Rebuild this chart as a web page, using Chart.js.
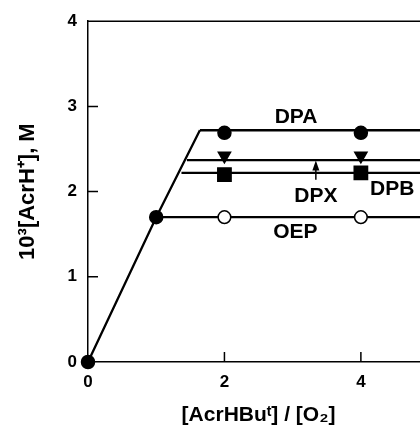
<!DOCTYPE html>
<html>
<head>
<meta charset="utf-8">
<script src="https://cdn.jsdelivr.net/npm/chart.js@4.4.0/dist/chart.umd.min.js"></script>
<style>
  html, body { margin: 0; padding: 0; overflow: hidden; background: #fff; }
  #wrap { width: 440px; height: 427px; }
</style>
</head>
<body>
<div id="wrap"><canvas id="acrChart" width="440" height="427"></canvas></div>
<script>
// Valores
const xMax = 5;
const yMax = 4;

// Recta inicial (todas las series comparten el tramo de subida)
const rampX = [0, 1, 1.64];
const rampY = [0, 1.70, 2.72];

// Mesetas de cada porfirina
const seriesNames = ['DPA', 'DPX', 'DPB', 'OEP'];
const plateauY = [2.72, 2.37, 2.22, 1.70];
const plateauStartX = [1.64, 1.45, 1.37, 1.0];

// Puntos experimentales
const rampPointsX = [0, 1];
const rampPointsY = [0, 1.70];
const pointX = [2, 4];
const dpaY = [2.69, 2.69];
const dpxY = [2.42, 2.42];
const dpbY = [2.20, 2.22];
const oepY = [1.70, 1.70];

const FONT = "'Liberation Sans', Arial, Helvetica, sans-serif";

const toPts = (xs, ys) => xs.map((x, i) => ({ x: x, y: ys[i] }));

// Etiquetas de las curvas (posición en coordenadas de datos)
const curveLabels = [
    { text: 'DPA', x: 3.05, y: 2.87 },
    { text: 'DPX', x: 3.34, y: 1.95 },
    { text: 'DPB', x: 4.46, y: 2.03 },
    { text: 'OEP', x: 3.04, y: 1.52 }
];
const dpxArrow = { x: 3.34, from: 2.14, to: 2.365 };

const lineDs = (data) => ({
    data: data,
    showLine: true,
    borderColor: '#000',
    borderWidth: 2.3,
    pointRadius: 0,
    order: 1
});

const pointDs = (data, style, radius, fill, rotation) => ({
    data: data,
    showLine: false,
    pointStyle: style,
    pointRadius: radius,
    pointHoverRadius: radius,
    pointRotation: rotation || 0,
    backgroundColor: fill,
    borderColor: '#000',
    borderWidth: 1.5,
    clip: false,
    order: 0
});

const datasets = [
    lineDs(toPts(rampX, rampY))
];
seriesNames.forEach((name, i) => {
    datasets.push(lineDs([{ x: plateauStartX[i], y: plateauY[i] }, { x: xMax, y: plateauY[i] }]));
});
datasets.push(pointDs(toPts(rampPointsX, rampPointsY), 'circle', 6.5, '#000'));
datasets.push(pointDs(toPts(pointX, dpaY), 'circle', 6.5, '#000'));
datasets.push(pointDs(toPts(pointX, dpxY), 'triangle', 7, '#000', 180));
datasets.push(pointDs(toPts(pointX, dpbY), 'rect', 9.4, '#000'));
datasets.push(pointDs(toPts(pointX, oepY), 'circle', 6.3, '#fff'));

// Marco superior, marcas hacia dentro, etiquetas y flecha
const decorations = {
    id: 'decorations',
    afterDatasetsDraw(chart) {
        const { ctx, chartArea, scales } = chart;
        const xs = scales.x, ys = scales.y;
        ctx.save();
        ctx.strokeStyle = '#000';
        ctx.lineWidth = 1.5;
        ctx.beginPath();
        ctx.moveTo(chartArea.left, chartArea.top);
        ctx.lineTo(chartArea.right, chartArea.top);
        ctx.lineTo(chartArea.right, chartArea.bottom);
        ctx.stroke();

        ctx.beginPath();
        xs.ticks.forEach(t => {
            if (t.value <= 0 || t.value >= xMax) return;
            const px = xs.getPixelForValue(t.value);
            ctx.moveTo(px, chartArea.bottom);
            ctx.lineTo(px, chartArea.bottom - 10);
        });
        ys.ticks.forEach(t => {
            if (t.value <= 0 || t.value >= yMax) return;
            const py = ys.getPixelForValue(t.value);
            ctx.moveTo(chartArea.left, py);
            ctx.lineTo(chartArea.left + 10, py);
        });
        ctx.stroke();

        ctx.fillStyle = '#000';
        ctx.font = 'bold 21px ' + FONT;
        ctx.textAlign = 'center';
        ctx.textBaseline = 'middle';
        curveLabels.forEach(l => {
            ctx.fillText(l.text, xs.getPixelForValue(l.x), ys.getPixelForValue(l.y));
        });

        const ax = xs.getPixelForValue(dpxArrow.x);
        const ay0 = ys.getPixelForValue(dpxArrow.from);
        const ay1 = ys.getPixelForValue(dpxArrow.to);
        ctx.lineWidth = 1.5;
        ctx.beginPath();
        ctx.moveTo(ax, ay0);
        ctx.lineTo(ax, ay1 + 6);
        ctx.stroke();
        ctx.beginPath();
        ctx.moveTo(ax, ay1);
        ctx.lineTo(ax - 3.5, ay1 + 10);
        ctx.lineTo(ax + 3.5, ay1 + 10);
        ctx.closePath();
        ctx.fill();
        ctx.restore();
    }
};

const config = {
    type: 'scatter',
    data: { datasets: datasets },
    options: {
        responsive: false,
        animation: false,
        devicePixelRatio: 1,
        layout: { padding: { top: 19, right: 10, left: 0, bottom: 0 } },
        plugins: {
            legend: { display: false },
            tooltip: { enabled: false }
        },
        scales: {
            x: {
                type: 'linear',
                min: 0,
                max: xMax,
                afterFit(scale) { scale.height = 65; },
                grid: { drawOnChartArea: false, drawTicks: false },
                border: { display: true, color: '#000', width: 1.5 },
                ticks: {
                    stepSize: 2,
                    includeBounds: false,
                    padding: 10,
                    color: '#000',
                    font: { family: FONT, size: 17, weight: 'bold' }
                },
                title: {
                    display: true,
                    text: '[AcrHBuᵗ] / [O₂]',
                    color: '#000',
                    padding: { top: 0, bottom: -1 },
                    font: { family: FONT, size: 21, weight: 'bold' }
                }
            },
            y: {
                type: 'linear',
                min: 0,
                max: yMax,
                afterFit(scale) { scale.width = 88; },
                grid: { drawOnChartArea: false, drawTicks: false },
                border: { display: true, color: '#000', width: 1.5 },
                ticks: {
                    stepSize: 1,
                    padding: 11,
                    color: '#000',
                    font: { family: FONT, size: 17, weight: 'bold' }
                },
                title: {
                    display: true,
                    text: '10³[AcrH⁺], M',
                    color: '#000',
                    padding: { top: 15, bottom: 0 },
                    font: { family: FONT, size: 22, weight: 'bold' }
                }
            }
        }
    },
    plugins: [decorations]
};

const ctx = document.getElementById('acrChart').getContext('2d');
new Chart(ctx, config);
</script>
</body>
</html>
